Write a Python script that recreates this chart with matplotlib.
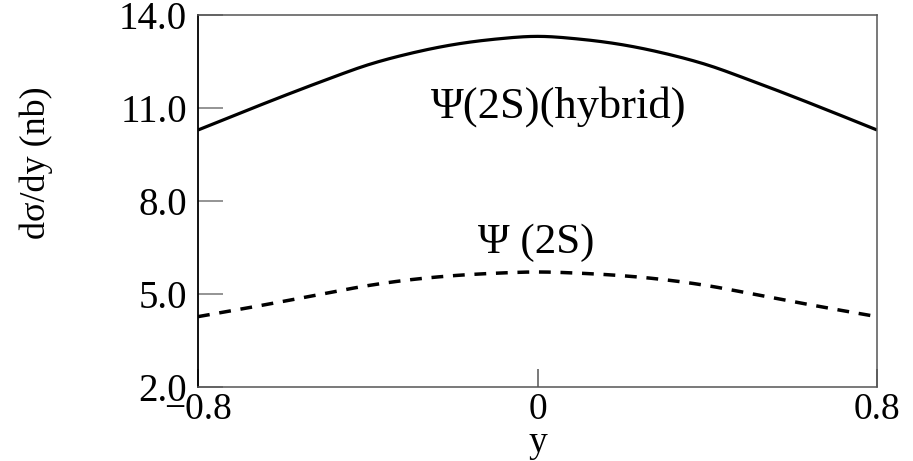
import matplotlib
matplotlib.use("Agg")
import matplotlib.pyplot as plt
import numpy as np

# rapidity grid and differential cross sections (nb)
rapidity = [-0.8, -0.7, -0.6, -0.5, -0.4, -0.3, -0.2, -0.1, 0.0,
            0.1, 0.2, 0.3, 0.4, 0.5, 0.6, 0.7, 0.8]
psi2s_hybrid = [10.29, 10.84, 11.38, 11.90, 12.39, 12.76, 13.04, 13.22, 13.31,
                13.22, 13.04, 12.76, 12.39, 11.90, 11.38, 10.84, 10.29]
psi2s = [4.27, 4.51, 4.76, 5.02, 5.27, 5.46, 5.59, 5.67, 5.71,
         5.67, 5.59, 5.46, 5.27, 5.02, 4.76, 4.51, 4.27]

x_ticks = [-0.8, 0.0, 0.8]
x_ticklabels = ["\u22120.8", "0", "0.8"]
y_ticks = [2.0, 5.0, 8.0, 11.0, 14.0]
y_ticklabels = ["2.0", "5.0", "8.0", "11.0", "14.0"]


def smooth(xs, ys, n=12):
    """Catmull-Rom curve through the given points, for a smooth drawn line."""
    xs = np.asarray(xs, float)
    ys = np.asarray(ys, float)
    px = np.concatenate([[2 * xs[0] - xs[1]], xs, [2 * xs[-1] - xs[-2]]])
    py = np.concatenate([[2 * ys[0] - ys[1]], ys, [2 * ys[-1] - ys[-2]]])
    t = np.linspace(0, 1, n, endpoint=False)
    ox, oy = [], []
    for i in range(1, len(px) - 2):
        for arr, out in ((px, ox), (py, oy)):
            p0, p1, p2, p3 = arr[i - 1], arr[i], arr[i + 1], arr[i + 2]
            out.extend(0.5 * (2 * p1 + (-p0 + p2) * t
                              + (2 * p0 - 5 * p1 + 4 * p2 - p3) * t ** 2
                              + (-p0 + 3 * p1 - 3 * p2 + p3) * t ** 3))
    ox.append(xs[-1])
    oy.append(ys[-1])
    return ox, oy


plt.rcParams["font.family"] = ["Liberation Serif", "DejaVu Serif"]

fig = plt.figure(figsize=(9.13, 4.61), dpi=100)
ax = fig.add_axes([0.2169, 0.1605, 0.9606 - 0.2169, 0.9675 - 0.1605])

ax.plot(*smooth(rapidity, psi2s_hybrid), color="black", lw=2.3,
        solid_capstyle="butt")
ax.plot(*smooth(rapidity, psi2s), color="black", lw=2.5, dashes=(3.4, 2.8))

ax.set_xlim(-0.8, 0.8)
ax.set_ylim(2.0, 14.0)

ax.set_xticks(x_ticks)
ax.set_xticklabels(x_ticklabels)
ax.set_yticks(y_ticks)
ax.set_yticklabels(y_ticklabels)

ax.tick_params(axis="x", direction="in", length=13, width=1.1, color="#555555",
               labelsize=27, pad=4)
ax.tick_params(axis="y", direction="in", length=18, width=1.1, color="#777777",
               labelsize=28, pad=8)

for side in ("top", "right", "bottom"):
    ax.spines[side].set_color("#555555")
    ax.spines[side].set_linewidth(1.1)
ax.spines["left"].set_color("black")
ax.spines["left"].set_linewidth(1.3)

ax.set_xlabel("y", fontsize=27, va="bottom")
ax.xaxis.set_label_coords(0.5, -0.197)
ax.set_ylabel("d\u03c3/dy (nb)", fontsize=26)
ax.yaxis.set_label_coords(-0.213, 0.602)

ax.text(-0.252, 10.68, "\u03a8(2S)(hybrid)", fontsize=32, ha="left", va="baseline")
ax.text(-0.14, 6.32, "\u03a8 (2S)", fontsize=31, ha="left", va="baseline")

fig.savefig("out.png", dpi=100)
